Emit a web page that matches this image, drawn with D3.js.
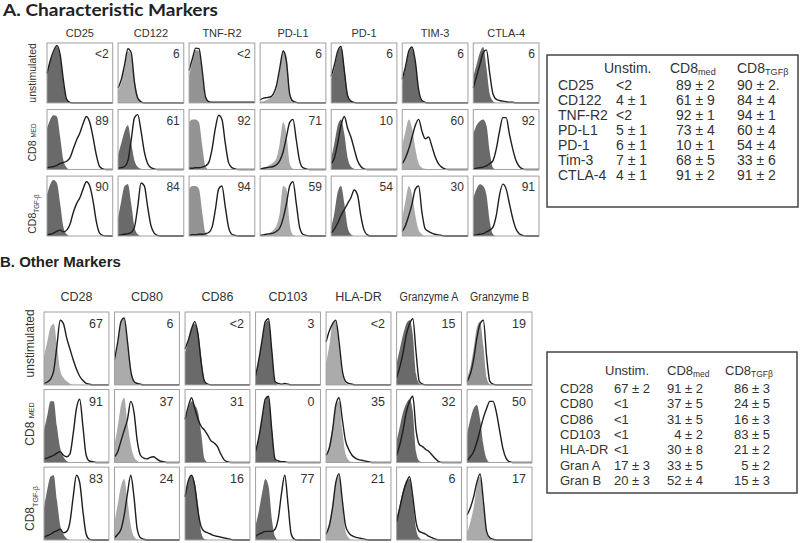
<!DOCTYPE html>
<html>
<head>
<meta charset="utf-8">
<script src="https://d3js.org/d3.v7.min.js"></script>
<style>
  body { margin: 0; background: #fff; }
  text { font-family: "Liberation Sans", Arial, sans-serif; fill: #333; }
</style>
</head>
<body>
<div class="d3-wrapper"></div>
<script>
// row conditions (same for both panels)
var conditions = ["unstimulated", "CD8 MED", "CD8 TGF-β"];

// ---- panel A: characteristic markers ----
var markersA = ["CD25", "CD122", "TNF-R2", "PD-L1", "PD-1", "TIM-3", "CTLA-4"];
var pctA = [
  ["<2", "6", "<2", "6", "6", "6", "6"],
  ["89", "61", "92", "71", "10", "60", "92"],
  ["90", "84", "94", "59", "54", "30", "91"]
];
// filled (control) histograms, % of max per channel bin (21 bins, empty bins left out at the end)
var fillA = [
  [[55,70,85,95,80,35,5,1], [20,35,60,88,80,40,12,3], [45,70,90,88,50,8,1], [2,3,5,8,12,25,55,90,80,20,2],
   [40,60,85,95,60,15,3,1], [35,60,85,93,70,20,3], [45,65,85,95,60,15,3]],
  [[70,85,92,90,55,15,3], [25,45,65,75,45,15,4,1], [80,85,85,80,40,5], [2,3,5,8,12,20,45,80,60,10,1],
   [20,45,75,85,60,20,5,1], [40,65,85,70,35,10,3,1], [60,75,82,85,75,30,3]],
  [[70,88,95,90,55,15,3], [30,60,85,88,55,15,3], [80,85,85,80,40,5], [1,2,3,5,10,18,40,85,80,20,2],
   [15,40,75,85,55,15,3], [30,60,85,70,35,10,3], [65,80,88,85,70,25,3]]
];
// open (stained) histograms
var lineA = [
  [[50,72,88,97,82,38,6,1], [25,40,65,92,85,35,8,2], [55,75,93,92,55,10,2,1,1,1,1,1,1,1,1,1,1,1,1,1,1],
   [5,8,9,10,15,30,60,88,70,15,3,1], [45,65,88,96,55,12,3,1], [40,62,88,95,70,22,4,1],
   [25,45,65,85,90,50,15,6,4,3,2,1,1]],
  [[3,4,5,7,10,12,14,20,35,50,62,78,90,80,55,25,5,1], [2,3,5,15,50,88,93,65,30,10,3,1],
   [2,2,3,3,4,6,12,35,70,92,85,45,12,3,1], [1,2,3,4,5,8,15,30,55,80,85,50,15,3,1],
   [10,20,45,75,90,70,55,35,15,5,1], [10,20,35,55,75,85,65,52,55,40,22,10,4,1],
   [1,2,3,4,6,10,15,35,65,88,88,60,35,15,5,1]],
  [[2,3,5,8,10,7,10,20,40,55,65,80,92,85,60,25,5,1], [1,2,3,4,6,15,50,90,85,50,18,5,1],
   [1,2,2,3,3,4,6,15,45,80,85,50,15,3,1], [1,2,3,4,5,8,14,30,55,85,92,55,15,3,1],
   [5,12,22,35,45,55,65,78,70,35,10,2], [8,18,35,55,80,85,40,12,8,5,3,2,1],
   [1,2,3,4,7,10,15,35,70,88,80,55,30,12,4,1]]
];

// ---- panel B: other markers ----
var markersB = ["CD28", "CD80", "CD86", "CD103", "HLA-DR", "Granzyme A", "Granzyme B"];
var pctB = [
  ["67", "6", "<2", "3", "<2", "15", "19"],
  ["91", "37", "31", "0", "35", "32", "50"],
  ["83", "24", "16", "77", "21", "6", "17"]
];
var fillB = [
  [[40,60,80,85,55,20,10,5,2], [30,55,85,92,60,20,5,2], [45,60,78,85,75,40,5], [15,35,60,85,90,50,5],
   [30,55,85,88,55,15,3], [30,50,70,85,90,70,15,2], [10,25,50,80,88,55,10,1]],
  [[45,65,85,85,50,20,8,2], [25,50,80,90,55,25,8,2], [60,75,85,80,70,40,5], [15,35,60,85,92,50,5],
   [10,25,50,80,85,45,12,3], [30,50,70,82,88,70,15,2], [40,60,75,80,60,25,5]],
  [[45,70,88,90,55,20,8,2], [25,50,75,85,55,20,5,1], [60,80,90,80,50,10,1], [20,40,65,85,75,30,5],
   [10,25,50,80,90,50,12,3], [30,50,70,82,85,55,15,3], [10,25,45,75,88,50,10,2]]
];
var lineB = [
  [[2,4,8,20,55,90,85,65,50,35,22,12,6,2,1], [35,60,88,93,60,20,5,2,1], [50,62,78,88,70,30,5,1],
   [12,35,62,88,92,48,5,2,1,2,1], [60,75,85,90,60,20,5,2,1], [10,25,45,70,85,92,45,5,1],
   [5,15,35,65,85,90,40,5,1]],
  [[5,6,8,10,13,15,10,8,12,40,75,88,50,10,2,1], [8,15,30,45,60,85,70,30,10,6,5,7,8,5,2,1],
   [60,78,90,75,60,50,45,38,30,27,22,12,4,1], [15,35,62,88,92,45,5,2,1,1],
   [10,20,45,80,90,60,30,18,10,6,4,3,2,1], [10,25,45,70,85,92,45,25,22,18,15,10,5,1],
   [3,8,15,28,45,62,75,85,85,70,45,20,6,1]],
  [[4,6,8,11,13,15,10,12,25,60,90,80,40,8,1], [3,8,15,35,65,90,60,15,3,1],
   [60,82,90,75,40,18,12,10,8,6,5,4,3,2,1], [5,8,10,12,12,12,15,30,65,90,50,8,1],
   [8,20,45,80,92,55,20,10,6,4,3,2,1], [25,45,65,80,88,60,25,12,10,8,5,3,1],
   [35,45,60,80,92,55,12,3,1]]
];

// ---- summary tables ----
var tableRowsA = ["CD25", "CD122", "TNF-R2", "PD-L1", "PD-1", "Tim-3", "CTLA-4"];
var unstimA = ["<2", "4 ± 1", "<2", "5 ± 1", "6 ± 1", "7 ± 1", "4 ± 1"];
var medA = ["89 ± 2", "61 ± 9", "92 ± 1", "73 ± 4", "10 ± 1", "68 ± 5", "91 ± 2"];
var tgfA = ["90 ± 2.", "84 ± 4", "94 ± 1", "60 ± 4", "54 ± 4", "33 ± 6", "91 ± 2"];
var tableRowsB = ["CD28", "CD80", "CD86", "CD103", "HLA-DR", "Gran A", "Gran B"];
var unstimB = ["67 ± 2", "<1", "<1", "<1", "<1", "17 ± 3", "20 ± 3"];
var medB = ["91 ± 2", "37 ± 5", "31 ± 5", "4 ± 2", "30 ± 8", "33 ± 5", "52 ± 4"];
var tgfB = ["86 ± 3", "24 ± 5", "16 ± 3", "83 ± 5", "21 ± 2", "5 ± 2", "15 ± 3"];

// fill shades (style only): d = dark, m = medium, l = light
var shadeA = [["d","l","m","l","d","d","d"], ["d","d","m","l","d","l","d"], ["d","d","m","l","d","l","d"]];
var shadeB = [["l","l","d","d","l","d","m"], ["d","l","d","d","l","d","d"], ["d","l","d","d","l","d","l"]];
var shadeColor = {d: "#6a6a6a", m: "#939393", l: "#ababab"};

var svg = d3.select(".d3-wrapper").append("svg").attr("width", 800).attr("height", 543);

var full = function(v) {
  // empty bins past the end of the list
  return d3.range(21).map(function(i) { return i < v.length ? v[i] : 0; });
};

var drawRowLabel = function(g, cond, x, y, size) {
  var t = g.append("text").attr("transform", "translate(" + x + "," + y + ") rotate(-90)")
    .attr("text-anchor", "middle").style("font-size", size + "px");
  if (cond === "unstimulated") {
    t.text(cond);
  } else if (cond === "CD8 MED") {
    t.append("tspan").text("CD8 ");
    t.append("tspan").text("MED").style("font-size", (size * 0.6) + "px");
  } else {
    t.append("tspan").text("CD8");
    t.append("tspan").text("TGF-β").attr("dy", size * 0.3).style("font-size", (size * 0.6) + "px");
  }
}; // end drawRowLabel

var drawGrid = function(o) {
  var col = d3.scaleBand().domain(o.markers).range(o.xRange).paddingInner(o.padX);
  var row = d3.scaleBand().domain(d3.range(3)).range(o.yRange).paddingInner(o.padY);
  var bin = d3.scaleLinear().domain([0, 20]).range([0, col.bandwidth()]);
  var hgt = d3.scaleLinear().domain([0, 100]).range([row.bandwidth(), 1]);

  var area = d3.area().x(function(d, i) { return bin(i); }).y0(hgt(0)).y1(function(d) { return hgt(d); })
    .curve(d3.curveMonotoneX);
  var line = d3.line().x(function(d, i) { return bin(i); }).y(function(d) { return hgt(d); })
    .curve(d3.curveMonotoneX);

  // column headers, squeezed when wider than a cell
  svg.selectAll(null).data(o.markers).enter().append("text")
    .attr("x", function(d) { return col(d) + col.bandwidth() / 2; })
    .attr("y", o.headerY).attr("text-anchor", "middle").style("font-size", o.headerSize + "px")
    .text(function(d) { return d; })
    .each(function() {
      var maxW = col.bandwidth() - 6;
      if (this.getComputedTextLength() > maxW) {
        d3.select(this).attr("textLength", maxW).attr("lengthAdjust", "spacingAndGlyphs");
      }
    });

  for (var r = 0; r < 3; r++) {
    drawRowLabel(svg, conditions[r], o.labelX, row(r) + row.bandwidth() / 2 + o.labelShift[r], o.labelSize);
    for (var c = 0; c < o.markers.length; c++) {
      var cell = svg.append("g").attr("transform", "translate(" + col(o.markers[c]) + "," + row(r) + ")");
      cell.append("path").datum(full(o.fills[r][c])).attr("d", area)
        .attr("fill", shadeColor[o.shades[r][c]]);
      cell.append("path").datum(full(o.lines[r][c])).attr("d", line)
        .attr("fill", "none").attr("stroke", "#1e1e1e").attr("stroke-width", 1.4);
      cell.append("rect").attr("width", col.bandwidth()).attr("height", row.bandwidth())
        .attr("fill", "none").attr("stroke", "#a0a0a0").attr("stroke-width", 1);
      cell.append("text").attr("x", col.bandwidth() - o.numPad).attr("y", o.numY)
        .attr("text-anchor", "end").style("font-size", o.numSize + "px").text(o.pct[r][c]);
    }
  }
}; // end drawGrid

var drawTable = function(o) {
  svg.append("rect").attr("x", o.box[0]).attr("y", o.box[1]).attr("width", o.box[2]).attr("height", o.box[3])
    .attr("fill", "#fff").attr("stroke", "#444").attr("stroke-width", 1.5);
  var g = svg.append("g").style("font-size", o.size + "px");
  g.append("text").attr("x", o.headX[0]).attr("y", o.headY).text("Unstim.");
  var h1 = g.append("text").attr("x", o.headX[1]).attr("y", o.headY);
  h1.append("tspan").text("CD8");
  h1.append("tspan").text("med").attr("dy", 2).style("font-size", (o.size * 0.65) + "px");
  var h2 = g.append("text").attr("x", o.headX[2]).attr("y", o.headY);
  h2.append("tspan").text("CD8");
  h2.append("tspan").text("TGFβ").attr("dy", 2).style("font-size", (o.size * 0.65) + "px");

  var rowY = function(i) { return o.rowY0 + i * o.rowStep; };
  g.selectAll(null).data(o.rows).enter().append("text")
    .attr("x", o.labelX).attr("y", function(d, i) { return rowY(i); }).text(function(d) { return d; });
  o.cols.forEach(function(values, k) {
    g.selectAll(null).data(values).enter().append("text")
      .attr("x", function(d) { return (o.rightAlign && d.charAt(0) !== "<") ? o.colX[k] : o.ltX[k]; })
      .attr("text-anchor", function(d) { return (o.rightAlign && d.charAt(0) !== "<") ? "end" : "start"; })
      .attr("y", function(d, i) { return rowY(i); })
      .text(function(d) { return d; });
  });
}; // end drawTable

// titles
svg.append("text").attr("x", 3).attr("y", 16).style("font-family", "Lato, 'Open Sans', sans-serif")
  .style("font-weight", "bold").style("font-size", "17px").attr("textLength", 215)
  .attr("lengthAdjust", "spacingAndGlyphs").style("fill", "#222").text("A. Characteristic Markers");
svg.append("text").attr("x", 0).attr("y", 267).style("font-weight", "bold").style("font-size", "15px")
  .style("fill", "#222").text("B. Other Markers");

drawGrid({markers: markersA, pct: pctA, fills: fillA, lines: lineA, shades: shadeA,
  xRange: [47, 539], yRange: [43, 236], padX: 0.075, padY: 0.1,
  headerY: 37, headerSize: 11, labelX: 36, labelSize: 10.5, labelShift: [0, 3, 8],
  numPad: 4, numY: 15, numSize: 12});

drawGrid({markers: markersB, pct: pctB, fills: fillB, lines: lineB, shades: shadeB,
  xRange: [44, 532], yRange: [312, 540], padX: 0.08, padY: 0.06,
  headerY: 301, headerSize: 12.5, labelX: 34, labelSize: 12, labelShift: [-5, -2, 5],
  numPad: 6, numY: 16, numSize: 12.5});

drawTable({box: [547, 55, 251, 152], size: 14, headY: 73, headX: [604, 670, 737],
  rows: tableRowsA, cols: [unstimA, medA, tgfA], rowY0: 90, rowStep: 15, labelX: 558,
  rightAlign: false, ltX: [616, 676, 737], colX: [0, 0, 0]});

drawTable({box: [547, 352, 250, 141], size: 13, headY: 375, headX: [605, 667, 725],
  rows: tableRowsB, cols: [unstimB, medB, tgfB], rowY0: 393, rowStep: 15.3, labelX: 560,
  rightAlign: true, ltX: [614, 670, 735], colX: [650, 703, 770]});
</script>
</body>
</html>
